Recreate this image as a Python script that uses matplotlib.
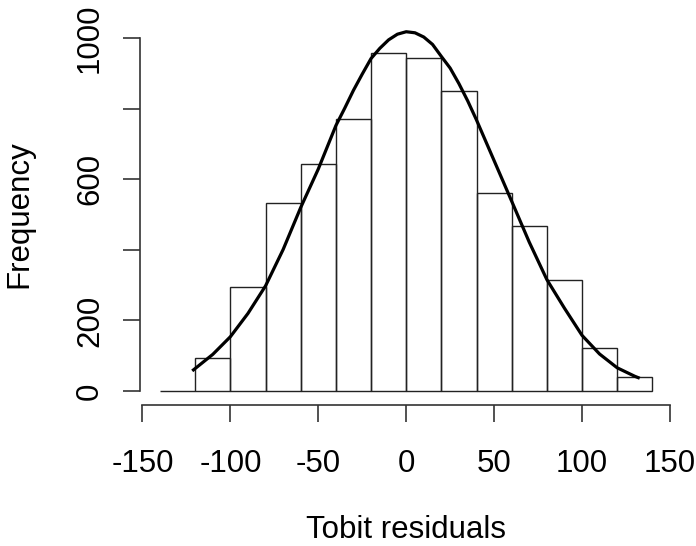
import matplotlib
matplotlib.use('Agg')
import matplotlib.pyplot as plt

plt.rcParams['font.family'] = ['Liberation Sans', 'DejaVu Sans']

# histogramme des residus (bins de largeur 20)
bin_left = [-140, -120, -100, -80, -60, -40, -20, 0, 20, 40, 60, 80, 100, 120]
counts = [0, 93, 296, 533, 642, 770, 959, 944, 850, 560, 467, 314, 122, 39]
bin_width = 20

# courbe normale superposee
curve_x = [-121, -110, -100, -90, -80, -70, -60, -50, -40, -35, -30, -25,
           -20, -15, -10, -5, 0, 5, 10, 15, 20, 25, 30, 35, 40, 50, 60, 70,
           80, 90, 100, 110, 120, 130, 132]
curve_y = [60, 104, 154, 220, 298, 401, 520, 629, 752, 801, 852, 898,
           942, 971, 995, 1011, 1018, 1015, 1003, 982, 948, 915, 871, 822,
           768, 653, 538, 422, 316, 235, 158, 105, 66, 42, 38]

xticks = [-150, -100, -50, 0, 50, 100, 150]
yticks = [0, 200, 400, 600, 800, 1000]
ytick_labels = ['0', '200', '', '600', '', '1000']

fig = plt.figure(figsize=(6.96, 5.46), dpi=100)
ax = fig.add_axes([0.2017, 0.2579, 0.7638, 0.6982])

ax.bar(bin_left, counts, width=bin_width, align='edge', fill=False,
       edgecolor='#222222', linewidth=1.0)
ax.plot(curve_x, curve_y, color='black', linewidth=2.3)

ax.set_xlim(-151.2, 151.2)
ax.set_ylim(-40, 1040)

for s in ['top', 'right']:
    ax.spines[s].set_visible(False)
ax.spines['left'].set_bounds(0, 1000)
ax.spines['bottom'].set_bounds(-150, 150)
for s in ['left', 'bottom']:
    ax.spines[s].set_linewidth(1.2)
    ax.spines[s].set_color('#333333')

ax.set_xticks(xticks)
ax.set_xticklabels([str(v) for v in xticks])
ax.set_yticks(yticks)
ax.set_yticklabels(ytick_labels, rotation=90, va='center')
ax.tick_params(axis='both', length=12.5, width=1.2, color='#333333',
               labelsize=22.5)
ax.tick_params(axis='x', pad=19)
ax.tick_params(axis='y', pad=13)

fig.text(0.5833, 1 - 530 / 546, 'Tobit residuals', ha='center', va='center',
         fontsize=22.5)
fig.text(19 / 696, 1 - 214.5 / 546, 'Frequency', ha='center', va='center',
         rotation=90, fontsize=22.5)

fig.savefig('out.png', dpi=100)
